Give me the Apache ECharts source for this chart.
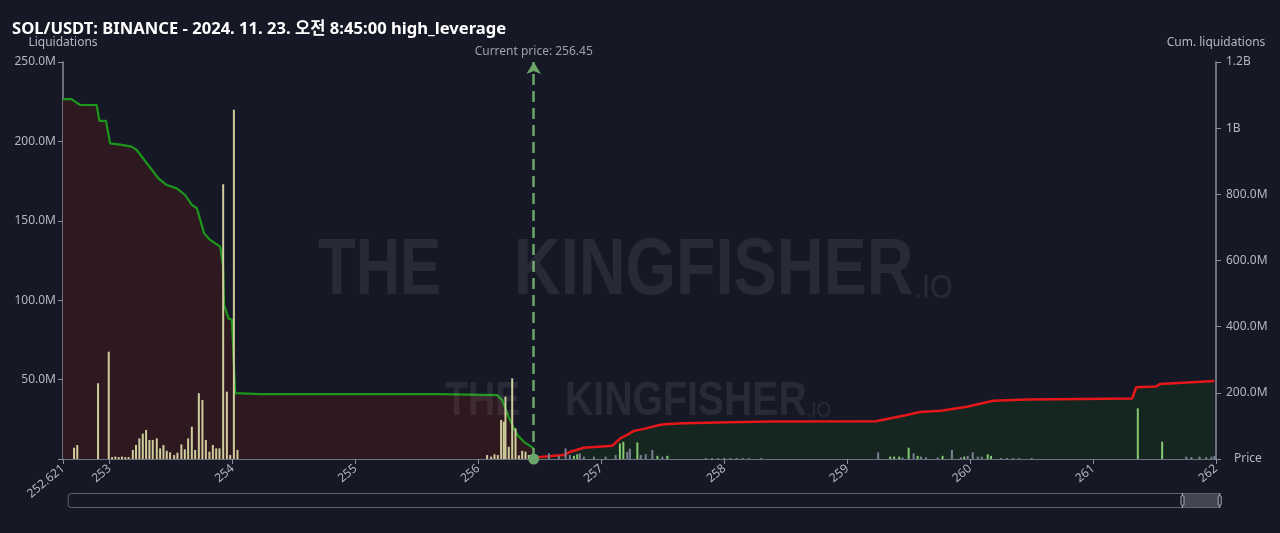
<!DOCTYPE html>
<html><head><meta charset="utf-8">
<script src="https://cdn.jsdelivr.net/npm/echarts@6/dist/echarts.min.js"></script>
<style>html,body{margin:0;padding:0;background:#161925;}#c{width:1280px;height:533px;}</style>
</head><body><div id="c"></div>
<script>
const TITLE = 'SOL/USDT: BINANCE - 2024. 11. 23. 오전 8:45:00 high_leverage';
const CURRENT_PRICE = 256.45;
const X_MIN = 252.621, X_MAX = 262;
const xTickValues = [252.621, 253, 254, 255, 256, 257, 258, 259, 260, 261, 262];
// values in millions (USDT)
const LEFT_MAX = 250, LEFT_STEP = 50;
const RIGHT_MAX = 1200, RIGHT_STEP = 200;

// long liquidations (below current price), [price, M]
const longBars = [
  [252.711,7.1],[252.737,8.8],[252.906,47.7],[252.993,67.6],[253.02,1.2],[253.047,1.5],[253.074,1.2],
  [253.101,1.5],[253.128,1.2],[253.155,1.2],[253.189,5.7],[253.215,8.8],[253.242,13],[253.27,16],
  [253.297,18.3],[253.324,12],[253.351,12],[253.384,13],[253.411,6.7],[253.438,8.8],[253.465,5.2],
  [253.492,4.2],[253.525,2.5],[253.552,4],[253.584,9.2],[253.612,6.1],[253.639,13],[253.669,20.3],
  [253.696,5.7],[253.726,41.4],[253.755,37.1],[253.783,12],[253.812,4.6],[253.84,8.8],[253.867,6.7],
  [253.894,6.7],[253.924,173],[253.954,42.4],[253.981,2.5],[254.011,220],[254.04,5.7],
  [256.071,2.5],[256.104,1.5],[256.131,3],[256.158,2.5],[256.185,24.6],[256.207,23.5],[256.22,39.2],
  [256.247,7.7],[256.275,50.8],[256.302,19.3],[256.329,2.3],[256.356,5.2],[256.383,4.6],[256.41,2.5]
];
// short liquidations (above current price), [price, M]
const shortBarsGreen = [
  [256.777,2],[256.804,3],[257.151,9.8],[257.179,10.8],[257.293,10.4],[257.456,2],[257.537,2],
  [259.35,1.5],[259.382,1.5],[259.423,1.5],[259.5,7.1],[259.573,2],[259.776,2],[259.952,1.5],
  [260.143,3],[260.17,2],[261.364,31.9],[261.562,10.9]
];
const shortBarsGrey = [
  [256.573,3.6],[256.654,2],[256.709,6.7],[256.744,2.5],[256.825,3.5],[256.858,1.5],[256.94,1.5],
  [257.035,1.5],[257.116,2.5],[257.211,4.5],[257.232,6.5],[257.32,2.5],[257.361,3],[257.415,5.7],
  [257.496,1.5],[257.85,0.6],[257.9,0.6],[257.95,0.6],[258.0,0.6],[258.05,0.6],[258.1,0.6],
  [258.15,0.6],[258.2,0.6],[258.3,0.6],[259.252,4.2],[259.45,1],[259.54,3.6],[259.6,1.5],
  [259.641,1],[259.736,1],[259.852,5.7],[259.925,1],[259.98,2],[260.021,4.2],[260.062,1.5],
  [260.094,1.5],[260.25,0.6],[260.3,0.6],[260.35,0.6],[260.4,0.6],[260.5,0.6],
  [261.758,1.5],[261.8,1.2],[261.866,1.5],[261.92,1.2],[261.963,1.5],[261.987,2]
];
// cumulative liquidations, [price, M]
const longCum = [
  [252.621,1088],[252.69,1088],[252.76,1070],[252.895,1070],[252.917,1022],[252.971,1022],
  [253.004,954],[253.085,950],[253.18,944],[253.221,934],[253.303,894],[253.397,848],[253.465,828],
  [253.547,818],[253.614,798],[253.669,768],[253.71,758],[253.769,682],[253.818,662],[253.9,642],
  [253.922,586],[253.932,465],[253.967,425],[253.995,421],[254.022,199],[254.225,196],[255.691,196],
  [256.153,193],[256.193,178],[256.234,138],[256.275,103],[256.316,73],[256.37,52],[256.438,35],[256.45,30]
];
const shortCum = [
  [256.45,0],[256.478,5],[256.695,12],[256.75,22],[256.858,34],[257.089,40],[257.157,63],[257.211,73],
  [257.265,85],[257.347,91],[257.456,101],[257.51,105],[257.672,108],[258.052,111],[258.378,113],
  [259.233,114],[259.486,133],[259.592,142],[259.763,146],[259.975,158],[260.186,176],[260.471,180],
  [261.318,183],[261.351,217],[261.513,219],[261.546,227],[261.986,236]
];
const WATERMARK = ['THE', 'KINGFISHER', '.IO'];

const FONT = '"Noto Sans", "Noto Sans CJK KR", sans-serif';
const LABEL_COLOR = '#b4b7c0';
const AXIS_COLOR = '#8b8f9a';
const fmtLeft = v => v === 0 ? '' : v.toFixed(1) + 'M';
const fmtRight = v => v === 0 ? '' : (v >= 1000 ? (v / 1000) + 'B' : v.toFixed(1) + 'M');

const chart = echarts.init(document.getElementById('c'), null, {renderer: 'canvas'});
const wmColor = 'rgba(255,255,255,0.08)';
const wmText = (txt, x, y, size, bold, sx) => ({
  type: 'text', x: x, y: y, scaleX: sx, z: 100, silent: true,
  style: {text: txt, fill: wmColor, verticalAlign: 'middle', align: 'left',
    font: (bold ? 'bold ' : '') + size + 'px "Liberation Sans", Arial, sans-serif'}
});
chart.setOption({
  backgroundColor: '#161925',
  animation: false,
  textStyle: {fontFamily: FONT},
  title: {
    text: TITLE, left: 7, top: 16,
    textStyle: {color: '#ffffff', fontSize: 16.6, fontWeight: 'bold', fontFamily: FONT}
  },
  grid: {left: 63, right: 64, top: 62, bottom: 74},
  xAxis: [{
    type: 'value', min: X_MIN, max: X_MAX,
    name: 'Price', nameLocation: 'end', nameGap: 18,
    nameTextStyle: {color: LABEL_COLOR, fontSize: 12},
    axisLine: {show: true, onZero: false, lineStyle: {color: AXIS_COLOR, width: 1.5}},
    axisTick: {show: true, customValues: xTickValues, length: 5, lineStyle: {color: AXIS_COLOR}},
    axisLabel: {show: true, customValues: xTickValues, rotate: 40, color: LABEL_COLOR, fontSize: 12,
      formatter: v => String(v)},
    splitLine: {show: false}
  }, {
    type: 'value', min: 0, max: 100, show: false, gridIndex: 0
  }],
  yAxis: [{
    type: 'value', min: 0, max: LEFT_MAX, interval: LEFT_STEP, position: 'left',
    name: 'Liquidations', nameLocation: 'end', nameGap: 13,
    nameTextStyle: {color: LABEL_COLOR, fontSize: 12, align: 'center'},
    axisLine: {show: true, lineStyle: {color: AXIS_COLOR, width: 1.5}},
    axisTick: {show: true, length: 5, lineStyle: {color: AXIS_COLOR}},
    axisLabel: {color: LABEL_COLOR, fontSize: 12, formatter: fmtLeft, margin: 7},
    splitLine: {show: false}
  }, {
    type: 'value', min: 0, max: RIGHT_MAX, interval: RIGHT_STEP, position: 'right',
    name: 'Cum. liquidations', nameLocation: 'end', nameGap: 13,
    nameTextStyle: {color: LABEL_COLOR, fontSize: 12, align: 'center'},
    axisLine: {show: true, lineStyle: {color: AXIS_COLOR, width: 1.5}},
    axisTick: {show: true, length: 5, lineStyle: {color: AXIS_COLOR}},
    axisLabel: {color: LABEL_COLOR, fontSize: 12, formatter: fmtRight, margin: 10},
    splitLine: {show: false}
  }],
  dataZoom: [{
    type: 'slider', xAxisIndex: 1, start: 96.6, end: 100,
    left: 67, right: 60, top: 493, height: 15,
    showDetail: false, showDataShadow: false, brushSelect: false,
    backgroundColor: 'rgba(0,0,0,0)', borderColor: '#5f6370', borderRadius: 3,
    fillerColor: 'rgba(150,152,165,0.35)',
    handleStyle: {color: '#1e2230', borderColor: '#a8abb5'},
    moveHandleSize: 6,
    moveHandleStyle: {color: '#5f6370'}
  }],
  graphic: [
    wmText(WATERMARK[0], 318, 272, 80, true, 0.77),
    wmText(WATERMARK[1], 514, 272, 80, true, 0.81),
    wmText(WATERMARK[2], 914, 289, 34, false, 0.85),
    wmText(WATERMARK[0], 445, 401, 49, true, 0.77),
    wmText(WATERMARK[1], 565, 401, 49, true, 0.80),
    wmText(WATERMARK[2], 806, 411, 22, false, 0.85)
  ],
  series: [{
    name: 'Long cum', type: 'line', xAxisIndex: 0, yAxisIndex: 1, data: longCum,
    showSymbol: false, z: 2,
    lineStyle: {color: '#1d961d', width: 2.2},
    areaStyle: {color: '#2e1920', opacity: 1, origin: 'start'},
    markLine: {
      silent: true, symbol: ['circle', 'arrow'], symbolSize: [11, 12],
      lineStyle: {color: '#6aa66a', type: [11, 6], width: 2.5},
      label: {show: true, position: 'end', formatter: 'Current price: ' + CURRENT_PRICE,
        color: '#9da0aa', fontSize: 12, distance: 4},
      data: [{xAxis: CURRENT_PRICE}]
    }
  }, {
    name: 'Short cum', type: 'line', xAxisIndex: 0, yAxisIndex: 1, data: shortCum,
    showSymbol: false, z: 2,
    lineStyle: {color: '#e5171a', width: 2.5},
    areaStyle: {color: '#15251f', opacity: 1, origin: 'start'}
  }, {
    name: 'Long liquidations', type: 'bar', xAxisIndex: 0, yAxisIndex: 0, data: longBars,
    barWidth: 2, barGap: '-100%', z: 3, itemStyle: {color: '#cfcd9c'}
  }, {
    name: 'Short liquidations', type: 'bar', xAxisIndex: 0, yAxisIndex: 0, data: shortBarsGreen,
    barWidth: 2, barGap: '-100%', z: 3, itemStyle: {color: '#86c873'}
  }, {
    name: 'Short liquidations (other)', type: 'bar', xAxisIndex: 0, yAxisIndex: 0, data: shortBarsGrey,
    barWidth: 2, barGap: '-100%', z: 3, itemStyle: {color: '#7d7f95'}
  }]
});
</script></body></html>
